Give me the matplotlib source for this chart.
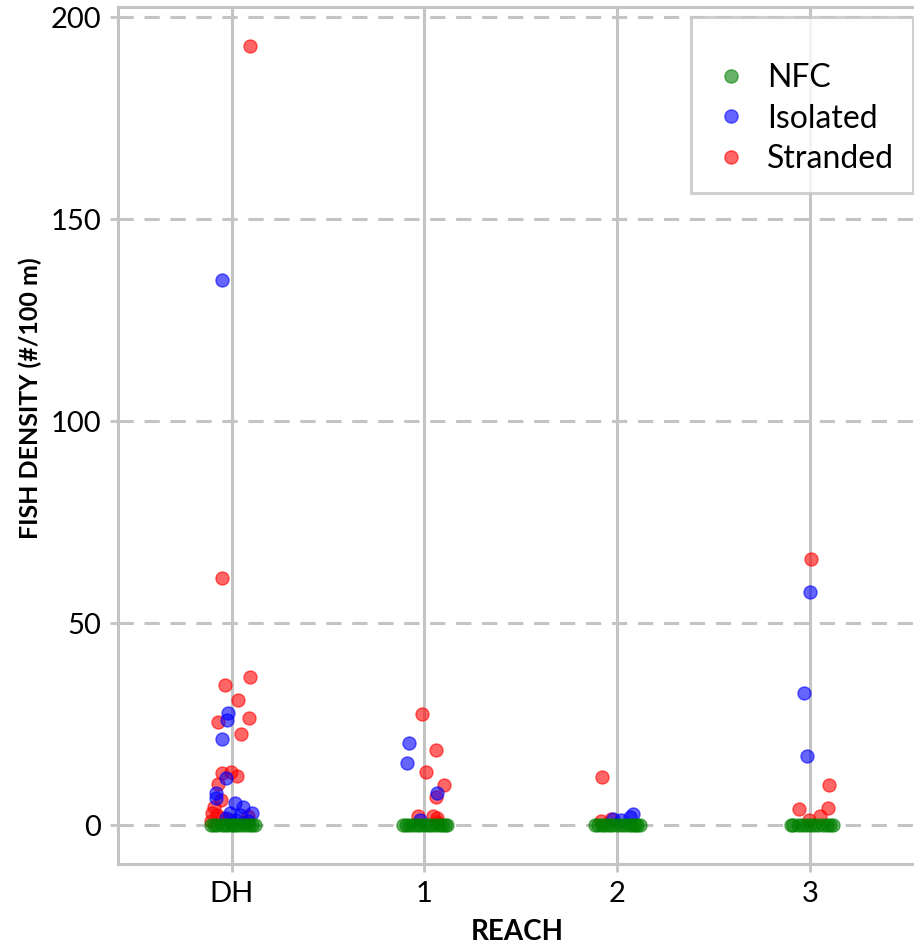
import matplotlib
matplotlib.use("Agg")
import matplotlib.pyplot as plt
from matplotlib.lines import Line2D

plt.rcParams['font.family'] = ['Lato', 'DejaVu Sans']

reaches = ["DH", "1", "2", "3"]
groups = ["NFC", "Isolated", "Stranded"]
group_colors = {"NFC": "#008000", "Isolated": "#0000ff", "Stranded": "#ff0000"}

# Stranded: (reach index, jitter offset, density)
stranded_reach = [0]*21 + [1]*9 + [2]*3 + [3]*6
stranded_jitter = [0.094, -0.047, -0.036, 0.094, 0.031, 0.089, -0.068, 0.047, -0.005, -0.047,
                   0.026, -0.068, -0.057, -0.089, 0.083, -0.073, -0.099, -0.052, -0.104, -0.010, 0.063,
                   -0.010, 0.063, 0.010, 0.104, 0.063, -0.031, 0.047, 0.068, 0.068,
                   -0.078, -0.031, -0.083,
                   0.005, 0.099, -0.057, 0.094, 0.052, -0.005]
stranded_density = [192.8, 61.1, 34.6, 36.6, 30.9, 26.5, 25.5, 22.5, 13.1, 12.9,
                    12.1, 10.2, 6.2, 4.5, 2.3, 2.5, 3.0, 1.7, 1.0, 1.2, 0.8,
                    27.5, 18.6, 13.1, 9.9, 6.9, 2.2, 2.2, 1.7, 0.7,
                    11.9, 1.5, 1.0,
                    65.8, 9.9, 4.0, 4.2, 2.2, 1.2]

# Isolated
isolated_reach = [0]*15 + [1]*4 + [2]*4 + [3]*3
isolated_jitter = [-0.047, -0.016, -0.021, -0.052, -0.031, -0.083, -0.078, 0.016, 0.057, 0.104,
                   -0.010, 0.042, -0.031, 0.021, 0.083,
                   -0.078, -0.089, 0.068, -0.021,
                   0.083, 0.068, -0.021, 0.021,
                   0.0, -0.031, -0.016]
isolated_density = [134.9, 27.7, 26.0, 21.3, 11.6, 8.0, 6.7, 5.4, 4.5, 3.0,
                    3.0, 2.5, 1.8, 1.2, 1.0,
                    20.3, 15.3, 7.9, 1.2,
                    2.7, 2.0, 1.5, 1.2,
                    57.7, 32.7, 17.1]

# NFC
nfc_reach = [0]*14 + [1]*14 + [2]*14 + [3]*12
nfc_jitter = [-0.105, -0.09, -0.075, -0.05, -0.035, -0.02, 0.0, 0.015, 0.03, 0.05, 0.07, 0.09, 0.105, 0.12,
              -0.11, -0.095, -0.08, -0.06, -0.04, -0.02, 0.0, 0.02, 0.035, 0.055, 0.075, 0.09, 0.105, 0.118,
              -0.115, -0.1, -0.08, -0.065, -0.04, -0.025, 0.0, 0.02, 0.04, 0.06, 0.08, 0.095, 0.105, 0.12,
              -0.1, -0.085, -0.06, -0.04, -0.02, 0.0, 0.02, 0.045, 0.07, 0.09, 0.105, 0.118]
nfc_density = [0.0]*54

fig = plt.figure(figsize=(9.14, 9.49), dpi=100)
ax = fig.add_axes([118/914, 1 - 864/949, 1 - 118/914 + 0.002, (864 - 7)/949])

grid_col = "#c4c4c4"
for spine in ["left", "bottom", "top"]:
    ax.spines[spine].set_color(grid_col)
    ax.spines[spine].set_linewidth(2.2)
ax.spines["right"].set_visible(False)

ax.set_xlim(-0.589, 3.55)
ax.set_ylim(-9.6, 202.5)
ax.set_xticks(range(len(reaches)))
ax.set_xticklabels(reaches)
ax.set_yticks([0, 50, 100, 150, 200])

ax.xaxis.grid(True, color=grid_col, linewidth=2.2, linestyle="-")
ax.yaxis.grid(True, color=grid_col, linewidth=2.2, linestyle=(0, (5, 3.5)))
ax.set_axisbelow(True)
ax.tick_params(axis="both", colors=grid_col, length=6, width=2, labelsize=21,
               labelcolor="black", pad=6)

series = [
    ("Stranded", stranded_reach, stranded_jitter, stranded_density),
    ("Isolated", isolated_reach, isolated_jitter, isolated_density),
    ("NFC", nfc_reach, nfc_jitter, nfc_density),
]
for name, r, j, d in series:
    xs = [ri + ji for ri, ji in zip(r, j)]
    ax.scatter(xs, d, s=88, color=group_colors[name], alpha=0.6,
               edgecolors=group_colors[name], linewidths=1, zorder=3)

ax.set_xlabel("REACH", fontsize=20, fontweight="bold", labelpad=9)
ax.set_ylabel("FISH DENSITY (#/100 m)", fontsize=18, fontweight="bold")
ax.yaxis.set_label_coords(-0.0955, 0.543)

handles = [Line2D([], [], marker="o", linestyle="", markersize=9.5,
                  markerfacecolor=group_colors[g], markeredgecolor=group_colors[g], alpha=0.6)
           for g in groups]
leg = ax.legend(handles, groups, loc="upper right", bbox_to_anchor=(0.997, 0.988),
                fontsize=23, frameon=True, fancybox=False, title=" ", title_fontsize=13,
                handlelength=1.3, handletextpad=0.5, borderpad=0.6, labelspacing=0.33,
                borderaxespad=0)
leg.get_frame().set_edgecolor(grid_col)
leg.get_frame().set_linewidth(2.2)

fig.savefig("out.png", dpi=100)
